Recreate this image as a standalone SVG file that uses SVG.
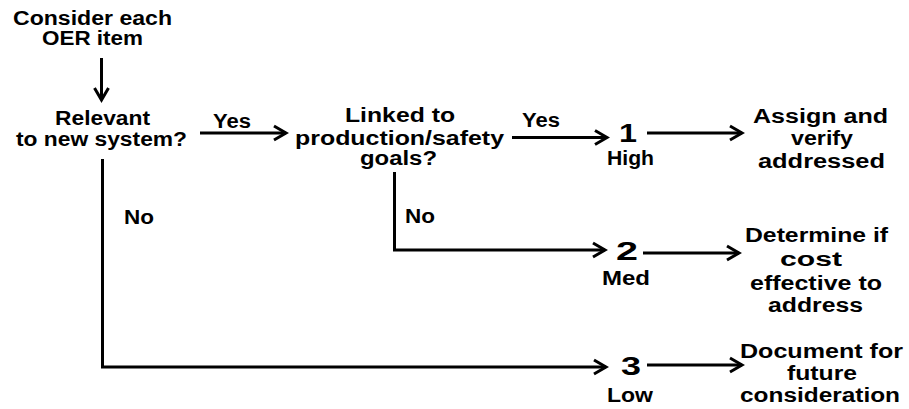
<svg xmlns="http://www.w3.org/2000/svg" width="909" height="409" viewBox="0 0 909 409">
  <style>
    text { font-family: "Liberation Sans", Arial, sans-serif; font-weight: bold; font-size: 20px; fill: #000; }
    text.num { font-size: 26px; }
    .conn { fill: none; stroke: #000; stroke-width: 3; marker-end: url(#head); }
  </style>
  <defs>
    <marker id="head" markerUnits="userSpaceOnUse" markerWidth="20" markerHeight="20" refX="0" refY="0" viewBox="-16 -10 20 20" orient="auto">
      <path d="M-12,-7 L0,0 L-12,7" fill="none" stroke="#000" stroke-width="3" stroke-linejoin="miter"/>
    </marker>
  </defs>

  <g id="start">
    <text x="13" y="25" textLength="159" lengthAdjust="spacingAndGlyphs">Consider each</text>
    <text x="42" y="45" textLength="101" lengthAdjust="spacingAndGlyphs">OER item</text>
  </g>

  <g id="relevant">
    <text x="55" y="125" textLength="95" lengthAdjust="spacingAndGlyphs">Relevant</text>
    <text x="16" y="146" textLength="171" lengthAdjust="spacingAndGlyphs">to new system?</text>
  </g>

  <g id="linked">
    <text x="345" y="122" textLength="110" lengthAdjust="spacingAndGlyphs">Linked to</text>
    <text x="295" y="145" textLength="209" lengthAdjust="spacingAndGlyphs">production/safety</text>
    <text x="360" y="165" textLength="77" lengthAdjust="spacingAndGlyphs">goals?</text>
  </g>

  <g id="high">
    <text class="num" x="619" y="142" textLength="18" lengthAdjust="spacingAndGlyphs">1</text>
    <text x="607" y="165" textLength="47" lengthAdjust="spacingAndGlyphs">High</text>
  </g>

  <g id="med">
    <text class="num" x="616" y="260" textLength="22" lengthAdjust="spacingAndGlyphs">2</text>
    <text x="602" y="285" textLength="48" lengthAdjust="spacingAndGlyphs">Med</text>
  </g>

  <g id="low">
    <text class="num" x="621" y="375" textLength="20" lengthAdjust="spacingAndGlyphs">3</text>
    <text x="607" y="402" textLength="46" lengthAdjust="spacingAndGlyphs">Low</text>
  </g>

  <g id="assign">
    <text x="753" y="123" textLength="135" lengthAdjust="spacingAndGlyphs">Assign and</text>
    <text x="791" y="145" textLength="62" lengthAdjust="spacingAndGlyphs">verify</text>
    <text x="758" y="168" textLength="127" lengthAdjust="spacingAndGlyphs">addressed</text>
  </g>

  <g id="determine">
    <text x="745" y="242" textLength="143" lengthAdjust="spacingAndGlyphs">Determine if</text>
    <text x="780" y="266" textLength="62" lengthAdjust="spacingAndGlyphs">cost</text>
    <text x="750" y="290" textLength="132" lengthAdjust="spacingAndGlyphs">effective to</text>
    <text x="768" y="312" textLength="95" lengthAdjust="spacingAndGlyphs">address</text>
  </g>

  <g id="document">
    <text x="740" y="358" textLength="163" lengthAdjust="spacingAndGlyphs">Document for</text>
    <text x="787" y="380" textLength="70" lengthAdjust="spacingAndGlyphs">future</text>
    <text x="740" y="402" textLength="160" lengthAdjust="spacingAndGlyphs">consideration</text>
  </g>

  <g id="connectors">
    <path class="conn" d="M101.5,58 V100"/>
    <path class="conn" d="M200,133 H286"/>
    <path class="conn" d="M512,137.5 H607"/>
    <path class="conn" d="M647,133 H742"/>
    <path class="conn" d="M102.5,159 V367 H606"/>
    <path class="conn" d="M394.5,172 V250 H605"/>
    <path class="conn" d="M643,253 H739"/>
    <path class="conn" d="M647,365 H742"/>
    <g id="connector-labels">
      <text x="213" y="128" textLength="38" lengthAdjust="spacingAndGlyphs">Yes</text>
      <text x="522" y="127" textLength="38" lengthAdjust="spacingAndGlyphs">Yes</text>
      <text x="124" y="224" textLength="30" lengthAdjust="spacingAndGlyphs">No</text>
      <text x="405" y="223" textLength="30" lengthAdjust="spacingAndGlyphs">No</text>
    </g>
  </g>
</svg>
